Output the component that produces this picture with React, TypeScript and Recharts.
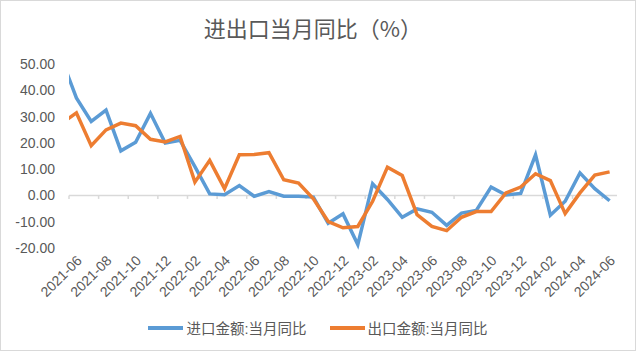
import { LineChart, Line, XAxis, YAxis, ReferenceLine, Legend } from 'recharts'

// 2021-05 sits just left of the plot and is clipped, as in the source chart
const months = [
  '2021-05', '2021-06', '2021-07', '2021-08', '2021-09', '2021-10', '2021-11', '2021-12',
  '2022-01', '2022-02', '2022-03', '2022-04', '2022-05', '2022-06', '2022-07', '2022-08',
  '2022-09', '2022-10', '2022-11', '2022-12', '2023-01', '2023-02', '2023-03', '2023-04',
  '2023-05', '2023-06', '2023-07', '2023-08', '2023-09', '2023-10', '2023-11', '2023-12',
  '2024-01', '2024-02', '2024-03', '2024-04', '2024-05', '2024-06',
]

const importYoY = [
  52, 37.2, 28.2, 32.5, 17, 20.3, 31.3, 20,
  21, 11, 0.6, 0.3, 3.8, -0.3, 1.5, -0.3,
  -0.3, -0.6, -10.6, -7.0, -18.7, 4.5, -1.5, -8.3,
  -5.1, -6.4, -11.4, -6.7, -5.7, 3.2, 0.2, 0.8,
  15.5, -7.5, -2.2, 8.6, 2.6, -2.0,
]

const exportYoY = [
  27.5, 31.5, 19, 25, 27.6, 26.6, 21.4, 20.4,
  22.5, 5.1, 13.4, 2.6, 15.5, 15.6, 16.3, 6.0,
  4.7, -1.3, -9.9, -12.3, -11.8, -2.2, 10.8, 7.6,
  -7.3, -11.8, -13.4, -8.3, -6.1, -6.1, 1.0, 3.2,
  8.3, 5.7, -6.9, 1.0, 7.8, 9.0,
]

const yTicks = [-20, -10, 0, 10, 20, 30, 40, 50]

const data = months.map((m, i) => ({
  idx: i - 1,
  month: m,
  imp: importYoY[i],
  exp: exportYoY[i],
}))

const labelIdx = data.filter((d) => d.idx >= 0 && d.idx % 2 === 0).map((d) => d.idx)
const tickMarks = labelIdx.map((i) => i - 0.5)

const FONT = '"Liberation Sans", "Noto Sans CJK SC", sans-serif'
const GREY = '#595959'
const BLUE = '#5B9BD5'
const ORANGE = '#ED7D31'

function MonthTick(props: any) {
  const { x, y, payload } = props
  const label = months[payload.value + 1]
  return (
    <g transform={`translate(${x + 3},${y + 2})`}>
      <text x={0} y={0} dy="0.35em" textAnchor="end" transform="rotate(-45)" fill={GREY} fontSize={14} fontFamily={FONT}>
        {label}
      </text>
    </g>
  )
}

function LegendBox() {
  const items = [
    { name: '进口金额:当月同比', color: BLUE },
    { name: '出口金额:当月同比', color: ORANGE },
  ]
  return (
    <div style={{ display: 'flex', justifyContent: 'center', gap: 23, fontFamily: FONT, fontSize: 14.5, color: GREY }}>
      {items.map((it) => (
        <div key={it.name} style={{ display: 'flex', alignItems: 'center' }}>
          <span style={{ display: 'inline-block', width: 35, height: 4, background: it.color, marginRight: 3 }} />
          <span>{it.name}</span>
        </div>
      ))}
    </div>
  )
}

export default function App() {
  return (
    <div style={{ position: 'absolute', left: 0, top: 0, width: 640, height: 352, background: '#fff' }}>
      <div style={{ position: 'absolute', left: 0, top: 0, width: 636, height: 351, border: '1px solid #d9d9d9', boxSizing: 'border-box' }} />
      <div style={{ position: 'absolute', left: 0, top: 11, width: 626, textAlign: 'center', fontFamily: '"Noto Sans CJK SC", sans-serif', fontSize: 22, color: GREY }}>
        进出口当月同比（%）
      </div>
      <div style={{ position: 'absolute', left: 0, top: 0 }}>
        <LineChart width={640} height={352} data={data} margin={{ top: 59, right: 23, bottom: 54, left: 9 }}>
          <XAxis
            dataKey="idx"
            type="number"
            domain={[-0.5, 36.5]}
            allowDataOverflow
            ticks={labelIdx}
            interval={0}
            tick={<MonthTick />}
            tickLine={false}
            axisLine={false}
            height={50}
          />
          <YAxis
            domain={[-20, 50]}
            ticks={yTicks}
            width={60}
            tickLine={false}
            axisLine={false}
            tickMargin={8}
            tickFormatter={(v: number) => v.toFixed(2)}
            tick={{ fill: GREY, fontSize: 14, fontFamily: FONT }}
          />
          <ReferenceLine y={0} stroke="#d9d9d9" strokeWidth={1.5} />
          {tickMarks.map((t) => (
            <ReferenceLine key={t} segment={[{ x: t, y: 0 }, { x: t, y: -1.3 }]} stroke="#d9d9d9" strokeWidth={1.5} />
          ))}
          <Line type="linear" dataKey="imp" name="进口金额:当月同比" stroke={BLUE} strokeWidth={3.5} dot={false} isAnimationActive={false} />
          <Line type="linear" dataKey="exp" name="出口金额:当月同比" stroke={ORANGE} strokeWidth={3.5} dot={false} isAnimationActive={false} />
          <Legend
            layout="horizontal"
            verticalAlign="middle"
            align="center"
            content={<LegendBox />}
            wrapperStyle={{ top: 317, left: 0, width: 636 }}
          />
        </LineChart>
      </div>
    </div>
  )
}
